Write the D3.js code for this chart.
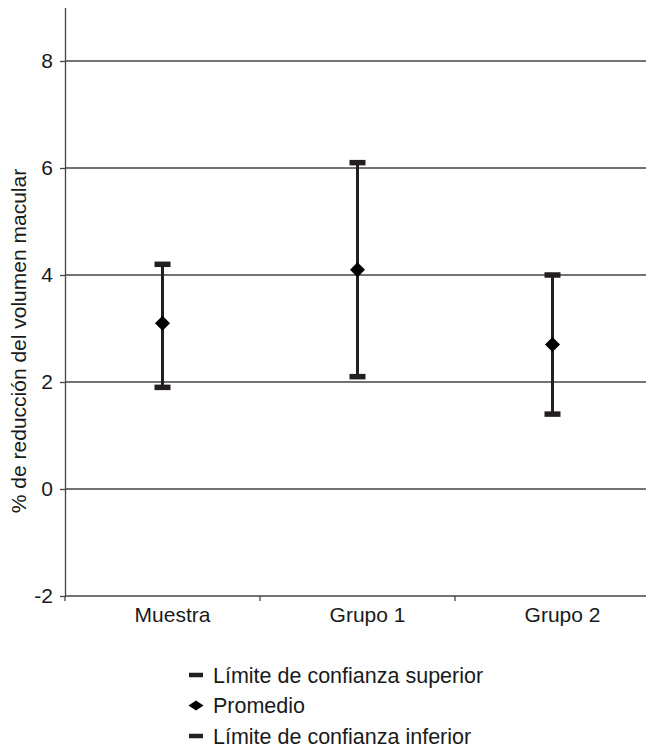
<!DOCTYPE html>
<html>
<head>
<meta charset="utf-8">
<script src="https://cdn.jsdelivr.net/npm/d3@7"></script>
<style>
  body { margin: 0; background: #fff; }
  svg text { font-family: "Liberation Sans", Arial, sans-serif; fill: #1a1a1a; }
</style>
</head>
<body>
<div id="chart"></div>
<script>
  // data
  let categories = ["Muestra", "Grupo 1", "Grupo 2"];
  let upperVals = [4.2, 6.1, 4.0];
  let meanVals = [3.1, 4.1, 2.7];
  let lowerVals = [1.9, 2.1, 1.4];
  let yTicks = [-2, 0, 2, 4, 6, 8];
  let legendLabels = ["Límite de confianza superior", "Promedio", "Límite de confianza inferior"];

  let width = 646;
  let height = 748;
  let ink = "#231f20";
  let grid = "#444";
  let fontSize = "21px";

  let svg = d3.select("#chart").append("svg")
    .attr("width", width)
    .attr("height", height);

  let xScale = d3.scaleBand()
    .domain(categories)
    .range([65, 650]);

  let yScale = d3.scaleLinear()
    .domain([-2, 9])
    .range([596, 7.5]);

  // gridlines
  svg.append("g")
    .selectAll("line")
    .data(yTicks.filter(function(d) { return d > -2; }))
    .join("line")
    .attr("x1", 65)
    .attr("x2", width)
    .attr("y1", function(d) { return yScale(d); })
    .attr("y2", function(d) { return yScale(d); })
    .attr("stroke", grid)
    .attr("stroke-width", 1.3);

  // y axis
  let yAxis = svg.append("g")
    .attr("transform", "translate(65,0)")
    .call(d3.axisLeft(yScale)
      .tickValues(yTicks)
      .tickFormat(function(d) { return String(d); })
      .tickSize(5).tickSizeOuter(0).tickPadding(7));
  yAxis.select(".domain").attr("stroke", grid).attr("stroke-width", 1.3);
  yAxis.selectAll(".tick line").attr("stroke", grid).attr("stroke-width", 1.3);
  yAxis.selectAll("text").style("font-size", fontSize).attr("fill", "#1a1a1a");

  // x axis (labels sit a little right of the band centre, as in the original)
  let xAxis = svg.append("g")
    .attr("transform", "translate(0," + yScale(-2) + ")")
    .call(d3.axisBottom(xScale).tickSize(0).tickPadding(0));
  xAxis.select(".domain").remove();
  xAxis.selectAll("text")
    .attr("x", 10).attr("y", 26).attr("dy", null)
    .style("font-size", fontSize).attr("fill", "#1a1a1a");
  xAxis.append("line")
    .attr("x1", 65).attr("x2", width)
    .attr("stroke", grid).attr("stroke-width", 1.3);
  xAxis.selectAll(".sep")
    .data(categories)
    .join("line")
    .attr("class", "sep")
    .attr("x1", function(d) { return xScale(d); })
    .attr("x2", function(d) { return xScale(d); })
    .attr("y1", 0).attr("y2", 5)
    .attr("stroke", grid).attr("stroke-width", 1.3);

  // error bars
  let bars = svg.append("g")
    .selectAll("g")
    .data(categories)
    .join("g")
    .attr("transform", function(d) { return "translate(" + (xScale(d) + xScale.bandwidth() / 2) + ",0)"; });

  bars.append("line")
    .attr("y1", function(d, i) { return yScale(upperVals[i]); })
    .attr("y2", function(d, i) { return yScale(lowerVals[i]); })
    .attr("stroke", ink)
    .attr("stroke-width", 3);

  bars.append("rect")
    .attr("x", -8).attr("width", 16).attr("height", 5.5)
    .attr("y", function(d, i) { return yScale(upperVals[i]) - 2.75; })
    .attr("fill", ink);

  bars.append("rect")
    .attr("x", -8).attr("width", 16).attr("height", 5.5)
    .attr("y", function(d, i) { return yScale(lowerVals[i]) - 2.75; })
    .attr("fill", ink);

  bars.append("path")
    .attr("d", "M0,-7.5L7.5,0L0,7.5L-7.5,0Z")
    .attr("transform", function(d, i) { return "translate(0," + yScale(meanVals[i]) + ")"; })
    .attr("fill", "#000");

  // y label
  svg.append("text")
    .attr("transform", "translate(26,341) rotate(-90)")
    .attr("text-anchor", "middle")
    .style("font-size", fontSize)
    .text("% de reducción del volumen macular");

  // legend
  let legend = svg.append("g")
    .selectAll("g")
    .data(legendLabels)
    .join("g")
    .attr("transform", function(d, i) { return "translate(196," + (675 + i * 30.5) + ")"; });

  legend.each(function(d, i) {
    let g = d3.select(this);
    if (i == 1) {
      g.append("path").attr("d", "M0,-5L7.5,0L0,5L-7.5,0Z").attr("fill", "#000");
    } else {
      g.append("rect").attr("x", -7).attr("y", -2.25).attr("width", 14).attr("height", 4.5).attr("fill", ink);
    }
  });

  legend.append("text")
    .attr("x", 17)
    .attr("dy", "0.35em")
    .style("font-size", "21.5px")
    .text(function(d) { return d; });
</script>
</body>
</html>
